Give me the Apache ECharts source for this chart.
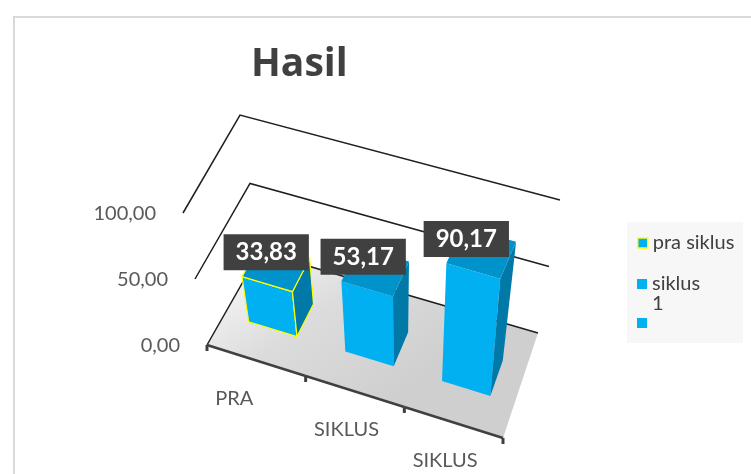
<!DOCTYPE html>
<html>
<head>
<meta charset="utf-8">
<script src="https://cdn.jsdelivr.net/npm/echarts@6/dist/echarts.min.js"></script>
<style>
  html, body { margin: 0; padding: 0; background: #fff; }
  #main { width: 751px; height: 474px; }
</style>
</head>
<body>
<div id="main"></div>
<script>
var categories = ["PRA", "SIKLUS", "SIKLUS"];
var seriesNames = ["pra siklus", "siklus 1", "siklus 2"];
var values = [33.83, 53.17, 90.17];
var valueTicks = [0, 50, 100];

var FONT = "Lato, 'Open Sans', sans-serif";

// screen corners of the 3d plot box: f/b = front/back, 0/1 = bottom/top, l/r = left/right
var BOX = {
  f0l: [207, 345], f0r: [503, 438], f1l: [183, 213], f1r: [513, 310],
  b0l: [260, 252], b0r: [538, 333], b1l: [240, 115], b1r: [560, 200]
};

function lerp(a, b, k) {
  return [a[0] + (b[0] - a[0]) * k, a[1] + (b[1] - a[1]) * k];
}
// u: along categories (0..1), t: along values (0..1), d: depth (0 front .. 1 back)
function project(u, t, d) {
  var f = lerp(lerp(BOX.f0l, BOX.f0r, u), lerp(BOX.f1l, BOX.f1r, u), t);
  var b = lerp(lerp(BOX.b0l, BOX.b0r, u), lerp(BOX.b1l, BOX.b1r, u), t);
  return lerp(f, b, d);
}
// data -> normalized position through the hidden grid's scales
function norm(params, api, x, v) {
  var p = api.coord([x, v]);
  var cs = params.coordSys;
  return [(p[0] - cs.x) / cs.width, (cs.y + cs.height - p[1]) / cs.height];
}
function fmt(v) {
  return v.toFixed(2).replace(".", ",");
}

function renderWall(params, api) {
  var v = api.value(1);
  var t = norm(params, api, 0, v)[1];
  var children = [];
  if (v === 0) {
    children.push({
      type: "polygon",
      shape: { points: [project(0, 0, 0), project(1, 0, 0), project(1, 0, 1), project(0, 0, 1)] },
      style: {
        fill: new echarts.graphic.LinearGradient(0, 0, 0.4, 1, [
          { offset: 0, color: "#ffffff" },
          { offset: 0.5, color: "#dcdcdc" },
          { offset: 1, color: "#cfcfcf" }
        ])
      }
    });
  }
  var fl = project(0, t, 0), bl = project(0, t, 1), br = project(1, t, 1);
  children.push({
    type: "polyline",
    shape: { points: [fl, bl, br] },
    style: { stroke: "#1f1f1f", lineWidth: 1.5, fill: null }
  });
  children.push({
    type: "text",
    x: fl[0] - 27,
    y: fl[1] + 1,
    style: { text: fmt(v), align: "right", verticalAlign: "middle", font: "20px " + FONT, fill: "#595959" }
  });
  return { type: "group", children: children };
}

function renderAxis(params, api) {
  var i = api.value(0);
  var n = categories.length;
  var a = project(i / n, 0, 0), b = project((i + 1) / n, 0, 0);
  var mid = project((i + 0.5) / n, 0, 0);
  var tick = { stroke: "#404040", lineWidth: 3 };
  var children = [
    { type: "line", shape: { x1: a[0], y1: a[1], x2: b[0], y2: b[1] }, style: { stroke: "#404040", lineWidth: 2.5 } },
    { type: "line", shape: { x1: b[0], y1: b[1], x2: b[0], y2: b[1] + 6 }, style: tick }
  ];
  if (i === 0) {
    children.push({ type: "line", shape: { x1: a[0], y1: a[1], x2: a[0], y2: a[1] + 6 }, style: tick });
  }
  children.push({
    type: "text",
    x: mid[0] - 41,
    y: mid[1] + 38,
    style: { text: categories[i], align: "left", verticalAlign: "middle", font: "20px " + FONT, fill: "#595959" }
  });
  return { type: "group", children: children };
}

function makeBarRenderer(border) {
  return function (params, api) {
    var i = api.value(0), v = api.value(1);
    var c = norm(params, api, i, v);
    var half = api.size([1, 0])[0] / params.coordSys.width * 0.25;
    var uL = c[0] - half, uR = c[0] + half, t = c[1];
    var d0 = 0.33, d1 = 0.67;
    var stroke = border ? { stroke: border, lineWidth: 1.2 } : {};
    function face(pts, fill) {
      return { type: "polygon", shape: { points: pts }, style: Object.assign({ fill: fill }, stroke) };
    }
    var top = project(c[0], t, d0);
    return {
      type: "group",
      children: [
        face([project(uL, 0, d0), project(uR, 0, d0), project(uR, t, d0), project(uL, t, d0)], "#00b0f0"),
        face([project(uR, 0, d0), project(uR, 0, d1), project(uR, t, d1), project(uR, t, d0)], "#0079a8"),
        face([project(uL, t, d0), project(uR, t, d0), project(uR, t, d1), project(uL, t, d1)], "#0092ca"),
        {
          type: "text",
          x: top[0] - 1 - 3 * i,
          y: top[1] - 32,
          z2: 10,
          style: {
            text: fmt(v), align: "center", verticalAlign: "middle",
            font: "bold 24px " + FONT, fill: "#ffffff",
            backgroundColor: "#404040", padding: [6, 12, 6, 12]
          }
        }
      ]
    };
  };
}

var chartDom = document.getElementById("main");
var myChart = echarts.init(chartDom);
var option;

var barSeries = seriesNames.map(function (name, i) {
  return {
    name: name,
    type: "custom",
    z: 3,
    itemStyle: { color: "#00b0f0" },
    renderItem: makeBarRenderer(i === 0 ? "#ffff00" : null),
    encode: { x: 0, y: 1 },
    data: [[i, values[i]]]
  };
});

function legendItem(name, top, extra) {
  return Object.assign({
    orient: "vertical",
    left: 637,
    top: top,
    padding: 0,
    itemWidth: 10,
    itemHeight: 10,
    icon: "rect",
    selectedMode: false,
    data: [{ name: name, itemStyle: { color: "#00b0f0" } }],
    textStyle: { color: "#404040", fontFamily: FONT, fontSize: 20 }
  }, extra || {});
}

option = {
  animation: false,
  title: {
    text: "Hasil",
    left: 246,
    top: 40,
    textStyle: { fontSize: 39, fontWeight: "bold", color: "#404040", fontFamily: "'Open Sans', Lato, sans-serif" }
  },
  legend: [
    legendItem(seriesNames[0], 233, {
      data: [{ name: seriesNames[0], itemStyle: { color: "#00b0f0", borderColor: "#ffff00", borderWidth: 1.5 } }]
    }),
    legendItem(seriesNames[1], 274, {
      formatter: function () { return "{s|siklus}\n{n|1}"; },
      textStyle: {
        color: "#404040", fontFamily: FONT, fontSize: 20,
        rich: {
          s: { fontSize: 20, padding: [20, 0, 0, 0], fontFamily: FONT, color: "#404040" },
          n: { fontSize: 20, fontFamily: FONT, color: "#404040" }
        }
      }
    }),
    legendItem(seriesNames[2], 318, {
      formatter: function () { return ""; }
    })
  ],
  grid: { left: 0, top: 0, width: 300, height: 100, show: false },
  xAxis: { type: "category", data: categories, show: false },
  yAxis: { type: "value", min: 0, max: 100, interval: 50, show: false },
  graphic: [
    {
      type: "rect",
      shape: { x: 14, y: 17, width: 800, height: 500 },
      style: { fill: null, stroke: "#d9d9d9", lineWidth: 2 },
      silent: true
    },
    {
      type: "rect",
      shape: { x: 627, y: 222, width: 116, height: 121 },
      style: { fill: "#f7f7f7" },
      silent: true
    }
  ],
  series: [
    {
      type: "custom",
      z: 1,
      silent: true,
      renderItem: renderWall,
      encode: { x: 0, y: 1 },
      data: valueTicks.map(function (v) { return [0, v]; })
    },
    {
      type: "custom",
      z: 2,
      silent: true,
      renderItem: renderAxis,
      encode: { x: 0, y: 1 },
      data: categories.map(function (c, i) { return [i, 0]; })
    }
  ].concat(barSeries)
};

option && myChart.setOption(option);
</script>
</body>
</html>
